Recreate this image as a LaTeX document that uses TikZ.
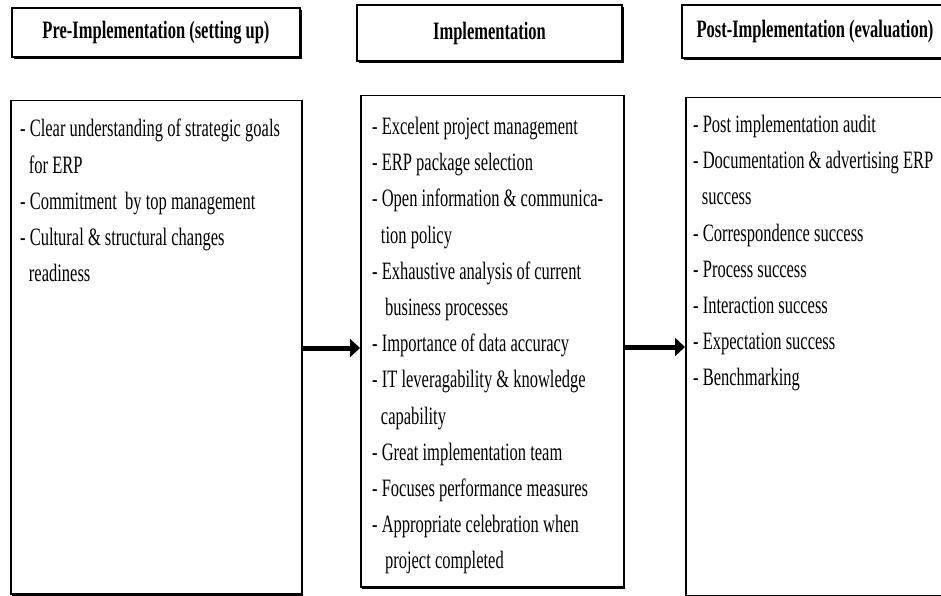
\documentclass[tikz,border=0pt]{standalone}
\usepackage{fontspec}
\setmainfont{Liberation Serif}[FakeStretch=0.66]
\usetikzlibrary{arrows.meta,positioning,shadows}

\newcommand{\cont}{\hspace*{0.35em}}

\begin{document}
\begin{tikzpicture}[x=1pt,y=-1pt,
  stagehead/.style={draw,line width=1.3pt,fill=white,inner sep=0pt,
    drop shadow={shadow xshift=1.8pt,shadow yshift=-1.8pt,fill=black,opacity=1},
    font=\bfseries\fontsize{25}{28}\selectfont},
  panel/.style={draw,line width=1.5pt,fill=white,inner sep=0pt,anchor=north west,
    drop shadow={shadow xshift=1.6pt,shadow yshift=-2pt,fill=black,opacity=1}},
  items/.style={anchor=north west,inner sep=0pt,align=left,
    font=\fontsize{25}{36.2}\selectfont},
  flow/.style={line width=5pt,-{Triangle[length=10pt,width=18pt]}}]
\useasboundingbox (0,0) rectangle (941,596);
\clip (0,0) rectangle (941,596);
% stage titles
\node[stagehead,minimum width=288,minimum height=49] (prehead) at (156,32.5) {Pre-Implementation (setting up)};
\node[stagehead,minimum width=265,minimum height=56] (imphead) at (489.5,33) {Implementation};
\node[stagehead,minimum width=266,minimum height=53] (posthead) at (815,31.5) {Post-Implementation (evaluation)};
% stage contents
\node[panel,minimum width=291,minimum height=493] (prebox) at (10,100) {};
\node[panel,minimum width=263,minimum height=491] (impbox) at (360,95) {};
\node[panel,minimum width=280,minimum height=498] (postbox) at (685,97) {};
\node[items] (pretext) at (20,119) {- Clear understanding of strategic goals\\
\cont for ERP\\
- Commitment\, by top management\\
- Cultural \& structural changes\\
\cont readiness};
\node[items] (imptext) at (372,117) {- Excelent project management\\
- ERP package selection\\
- Open information \& communica-\\
\cont tion policy\\
- Exhaustive analysis of current\\
\cont\ business processes\\
- Importance of data accuracy\\
- IT leveragability \& knowledge\\
\cont capability\\
- Great implementation team\\
- Focuses performance measures\\
- Appropriate celebration when\\
\cont\ project completed};
\node[items] (posttext) at (693,115) {- Post implementation audit\\
- Documentation \& advertising ERP\\
\cont success\\
- Correspondence success\\
- Process success\\
- Interaction success\\
- Expectation success\\
- Benchmarking};
% flow between stages
\draw[flow] (prebox.east |- 0,348) -- (impbox.west |- 0,348);
\draw[flow] (impbox.east |- 0,347) -- (postbox.west |- 0,347);
\end{tikzpicture}
\end{document}
